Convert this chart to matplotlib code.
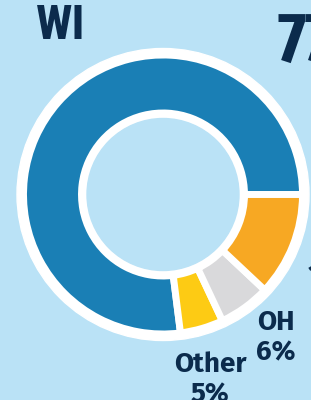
import matplotlib.pyplot as plt
from matplotlib.patches import Circle

# datos del donut (WI)
estados = ['WI', 'Other', 'OH', 'IL']
porcentajes = [77, 5, 6, 12]
colores = ['#1a7fb5', '#fdcb14', '#d9d9db', '#f7a823']
etiquetas = ['Other\n5%', 'OH\n6%', 'IL\n12%']

fondo = '#bae2f6'
azul_oscuro = '#0b2b4c'

fig = plt.figure(figsize=(3.11, 4.0), dpi=100, facecolor=fondo)
ax = fig.add_axes([0, 0, 1, 1])

cx, cy = 163, 205.5

# anillo blanco de fondo
ax.add_patch(Circle((cx, cy), 146, color='white', zorder=1))

ax.pie(porcentajes, colors=colores, startangle=0, counterclock=True,
       center=(cx, cy), radius=139.5, frame=True,
       wedgeprops=dict(width=58, edgecolor='white', linewidth=5, zorder=2))
ax.set_xlim(0, 311)
ax.set_ylim(0, 400)
ax.axis('off')

# agujero central
ax.add_patch(Circle((cx, cy), 76, color=fondo, zorder=3))

fuente_titulo = ['Roboto Condensed', 'DejaVu Sans']
fuente_num = ['Fira Sans Extra Condensed', 'Roboto Condensed', 'DejaVu Sans']
fuente_etq = ['Fira Sans', 'DejaVu Sans']

ax.text(61, 374, estados[0], fontsize=35, fontweight='bold', color=azul_oscuro,
        family=fuente_titulo, ha='center', va='center')
ax.text(277, 393, f'{porcentajes[0]}%', fontsize=51, fontweight='bold',
        color=azul_oscuro, family=fuente_num, ha='left', va='top')

# etiquetas de los segmentos pequeños
pos_etq = [(210, 49), (276, 91), (333, 168)]
for (x, y), txt in zip(pos_etq, etiquetas):
    ax.text(x, y, txt, fontsize=20, fontweight='bold', color=azul_oscuro,
            family=fuente_etq, ha='center', va='top', linespacing=1.2)

fig.savefig('out.png', dpi=100, facecolor=fondo)
